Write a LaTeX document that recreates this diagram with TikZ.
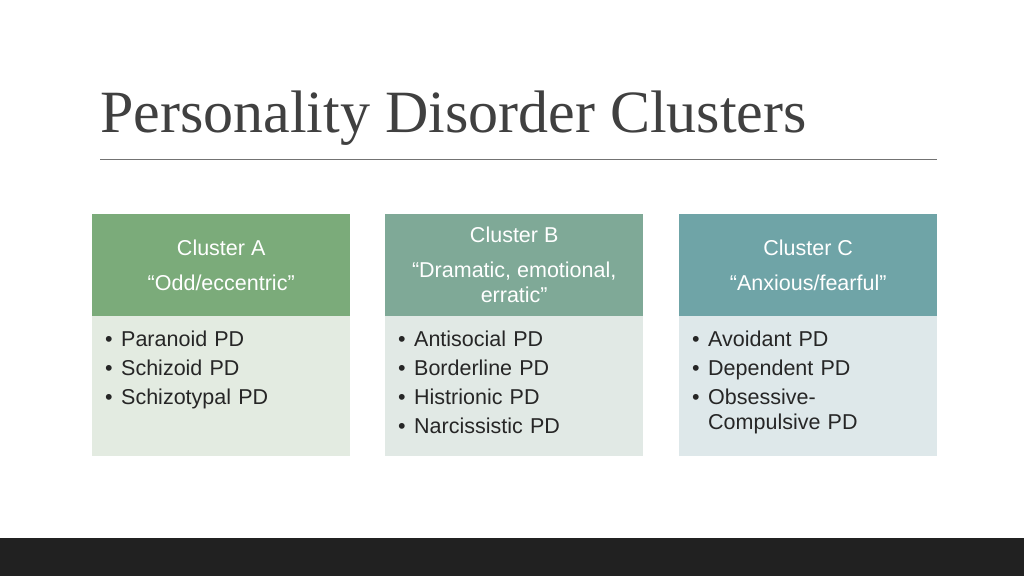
\documentclass[tikz,border=0pt]{standalone}
\usepackage{fontspec}
\setmainfont{Liberation Serif}
\newfontfamily\bodyfont{Liberation Sans}
\definecolor{hA}{HTML}{7BAB7A}
\definecolor{hB}{HTML}{7FA997}
\definecolor{hC}{HTML}{6FA4A7}
\definecolor{bA}{HTML}{E3EBE1}
\definecolor{bB}{HTML}{E1E9E5}
\definecolor{bC}{HTML}{DEE8EA}
\definecolor{txt}{HTML}{262626}
\tikzset{
 head/.style={minimum width=258pt,minimum height=102pt,inner sep=0pt,text=white,align=center,font=\bodyfont\fontsize{21.5}{24}\selectfont,anchor=north west},
 body/.style={minimum width=258pt,minimum height=140pt,inner sep=0pt,anchor=north west},
 items/.style={anchor=north west,text=txt,align=left,font=\bodyfont\fontsize{21.5}{29}\selectfont,inner sep=0pt,text width=230pt}
}
\newcommand{\bul}{\makebox[16pt][l]{•}}
\begin{document}
\begin{tikzpicture}[x=1pt,y=-1pt]
\useasboundingbox (0,0) rectangle (1024,576);
\fill[white] (0,0) rectangle (1024,576);
\fill[black!87] (0,538) rectangle (1024,576);
\node[anchor=base west,inner sep=0pt,text=black!75,font=\fontsize{60}{66}\selectfont] (title) at (100,132) {Personality Disorder Clusters};
\draw[black!55,line width=0.8pt] (100,159) -- (937,159);
\node[body,fill=bA] (bodyA) at (92,316) {};
\node[body,fill=bB] (bodyB) at (385,316) {};
\node[body,fill=bC] (bodyC) at (679,316) {};
\node[head,fill=hA] (headA) at (92,214) {Cluster A\\[11pt]“Odd/eccentric”};
\node[head,fill=hB] (headB) at (385,214) {Cluster B\\[11pt]“Dramatic, emotional,\\[1pt]erratic”};
\node[head,fill=hC] (headC) at (679,214) {Cluster C\\[11pt]“Anxious/fearful”};
\node[items] (itA) at (105,331) {\bul Paranoid PD\\\bul Schizoid PD\\\bul Schizotypal PD};
\node[items] (itB) at (398,331) {\bul Antisocial PD\\\bul Borderline PD\\\bul Histrionic PD\\\bul Narcissistic PD};
\node[items] (itC) at (692,331) {\bul Avoidant PD\\\bul Dependent PD\\\bul Obsessive-\\[-4pt]\hspace*{16pt}Compulsive PD};
\end{tikzpicture}
\end{document}
